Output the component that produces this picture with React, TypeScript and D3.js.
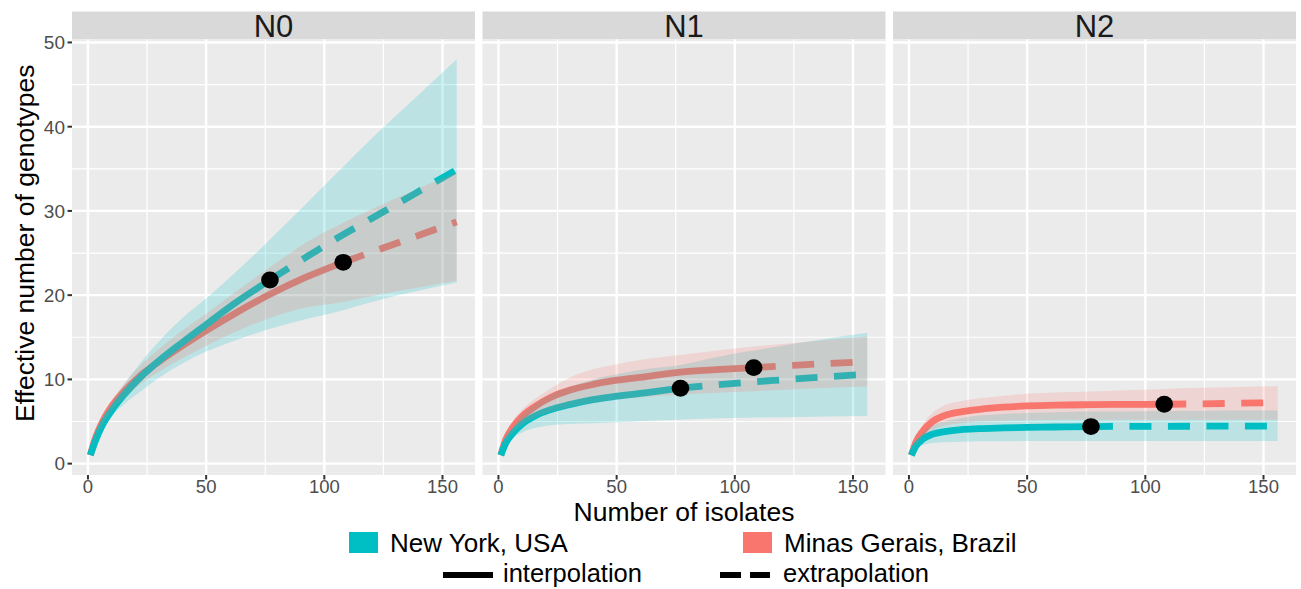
import React from 'react';
import * as d3 from 'd3';

// ---------- data ----------
const panelNames = ['N0', 'N1', 'N2'];
const seriesNames = ['New York, USA', 'Minas Gerais, Brazil'];
const seriesColors = ['#00BFC4', '#F8766D'];
const lineTypes = ['interpolation', 'extrapolation'];

const nyX = [1, 3, 6, 10, 15, 22, 30, 40, 50, 62, 77, 90, 105, 120, 138, 156];
const brX = [1, 3, 6, 10, 15, 22, 30, 40, 50, 62, 77, 92, 108, 124, 140, 156];
const nyObs = 77;
const brObs = 108;

const nyN0 = [1.0, 2.6, 4.5, 6.3, 8.1, 10.2, 12.2, 14.4, 16.5, 19.0, 21.8, 24.1, 26.7, 29.1, 32.0, 34.9];
const nyN0Lo = [1.0, 2.4, 4.0, 5.6, 7.0, 8.5, 10.2, 11.9, 13.3, 14.6, 16.0, 17.0, 18.0, 19.2, 20.4, 21.5];
const nyN0Hi = [1.0, 2.8, 5.0, 7.1, 9.3, 11.9, 14.5, 17.3, 19.6, 22.6, 26.6, 30.2, 34.4, 38.6, 43.3, 48.0];
const brN0 = [1.0, 2.9, 4.9, 6.8, 8.5, 10.4, 12.1, 14.0, 15.8, 17.8, 20.1, 22.1, 23.9, 25.5, 27.1, 28.7];
const brN0Lo = [1.0, 2.7, 4.5, 6.2, 7.7, 9.4, 10.9, 12.5, 14.0, 15.6, 17.3, 18.5, 19.2, 20.1, 20.9, 21.7];
const brN0Hi = [1.0, 3.1, 5.3, 7.4, 9.4, 11.6, 13.6, 15.8, 17.8, 20.3, 23.3, 26.2, 28.6, 30.7, 32.7, 34.6];

const nyN1 = [1.0, 2.4, 3.6, 4.7, 5.6, 6.4, 7.0, 7.6, 8.0, 8.4, 8.95, 9.3, 9.65, 9.95, 10.3, 10.6];
const nyN1Lo = [1.0, 2.0, 3.0, 3.7, 4.2, 4.55, 4.7, 4.8, 4.9, 5.05, 5.2, 5.35, 5.45, 5.5, 5.6, 5.65];
const nyN1Hi = [1.0, 2.8, 4.3, 5.8, 7.0, 8.2, 9.1, 10.0, 10.6, 11.2, 11.7, 12.5, 13.3, 14.0, 14.8, 15.55];
const brN1 = [1.0, 2.8, 4.3, 5.6, 6.7, 7.85, 8.7, 9.4, 9.9, 10.3, 10.85, 11.15, 11.4, 11.65, 11.9, 12.1];
const brN1Lo = [1.0, 2.5, 3.6, 4.6, 5.4, 6.1, 6.7, 7.2, 7.6, 7.9, 8.2, 8.4, 8.6, 8.8, 9.0, 9.15];
const brN1Hi = [1.0, 3.1, 5.0, 6.4, 7.6, 8.9, 10.2, 11.2, 11.8, 12.4, 12.9, 13.4, 13.9, 14.3, 14.7, 15.1];

const nyN2 = [1.0, 2.1, 2.95, 3.5, 3.8, 4.05, 4.15, 4.25, 4.3, 4.35, 4.4, 4.42, 4.43, 4.44, 4.45, 4.45];
const nyN2Lo = [1.0, 1.7, 2.2, 2.45, 2.55, 2.6, 2.65, 2.65, 2.7, 2.7, 2.7, 2.7, 2.7, 2.7, 2.7, 2.7];
const nyN2Hi = [1.0, 2.5, 3.7, 4.5, 5.0, 5.4, 5.7, 5.9, 6.0, 6.1, 6.2, 6.2, 6.25, 6.25, 6.3, 6.3];
const brN2 = [1.0, 2.6, 3.9, 5.0, 5.7, 6.15, 6.45, 6.7, 6.85, 6.95, 7.0, 7.03, 7.05, 7.1, 7.17, 7.25];
const brN2Lo = [1.0, 2.2, 3.2, 4.0, 4.5, 4.8, 5.0, 5.1, 5.15, 5.2, 5.2, 5.2, 5.2, 5.2, 5.2, 5.2];
const brN2Hi = [1.0, 3.0, 4.7, 6.0, 6.9, 7.4, 7.75, 8.05, 8.3, 8.45, 8.55, 8.7, 8.85, 9.0, 9.1, 9.2];

const xTicks = [0, 50, 100, 150];
const xMinor = [25, 75, 125];
const yTicks = [0, 10, 20, 30, 40, 50];
const yMinor = [5, 15, 25, 35, 45];

// ---------- layout ----------
const W = 1301;
const H = 589;
const panelLefts = [72, 482.5, 893];
const panelW = 403;
const stripTop = 11.5;
const panelTop = 39.5;
const panelBottom = 475;
const FONT = '"Liberation Sans", Arial, Helvetica, sans-serif';

type Pt = { x: number; y: number; lo: number; hi: number };

function build(xs: number[], y: number[], lo: number[], hi: number[]): Pt[] {
  return xs.map((x, i) => ({ x, y: y[i], lo: lo[i], hi: hi[i] }));
}

const panelData: { ny: Pt[]; br: Pt[] }[] = [
  { ny: build(nyX, nyN0, nyN0Lo, nyN0Hi), br: build(brX, brN0, brN0Lo, brN0Hi) },
  { ny: build(nyX, nyN1, nyN1Lo, nyN1Hi), br: build(brX, brN1, brN1Lo, brN1Hi) },
  { ny: build(nyX, nyN2, nyN2Lo, nyN2Hi), br: build(brX, brN2, brN2Lo, brN2Hi) },
];

const xDomainData = [1, 156];
const xPad = (xDomainData[1] - xDomainData[0]) * 0.05;
const yDomainData = [1, 48];
const yPad = (yDomainData[1] - yDomainData[0]) * 0.05;

const yScale = d3
  .scaleLinear()
  .domain([yDomainData[0] - yPad, yDomainData[1] + yPad])
  .range([panelBottom, panelTop]);

function Panel({ idx }: { idx: number }) {
  const left = panelLefts[idx];
  const x = d3
    .scaleLinear()
    .domain([xDomainData[0] - xPad, xDomainData[1] + xPad])
    .range([left, left + panelW]);
  const { ny, br } = panelData[idx];
  const line = d3
    .line<Pt>()
    .x((d) => x(d.x))
    .y((d) => yScale(d.y))
    .curve(d3.curveMonotoneX);
  const area = d3
    .area<Pt>()
    .x((d) => x(d.x))
    .y0((d) => yScale(d.lo))
    .y1((d) => yScale(d.hi))
    .curve(d3.curveMonotoneX);

  const series = [
    { pts: br, obs: brObs, color: seriesColors[1] },
    { pts: ny, obs: nyObs, color: seriesColors[0] },
  ];
  const lw = 6.8;

  return (
    <g>
      {/* strip */}
      <rect x={left} y={stripTop} width={panelW} height={panelTop - stripTop} fill="#d9d9d9" />
      <text
        x={left + panelW / 2}
        y={panelTop - 3}
        textAnchor="middle"
        fontFamily={FONT}
        fontSize={31}
        fill="#1a1a1a"
      >
        {panelNames[idx]}
      </text>
      {/* panel */}
      <rect x={left} y={panelTop} width={panelW} height={panelBottom - panelTop} fill="#ebebeb" />
      {yMinor.map((v) => (
        <line key={'ym' + v} x1={left} x2={left + panelW} y1={yScale(v)} y2={yScale(v)} stroke="#fff" strokeWidth={1.2} />
      ))}
      {xMinor.map((v) => (
        <line key={'xm' + v} x1={x(v)} x2={x(v)} y1={panelTop} y2={panelBottom} stroke="#fff" strokeWidth={1.2} />
      ))}
      {yTicks.map((v) => (
        <line key={'yM' + v} x1={left} x2={left + panelW} y1={yScale(v)} y2={yScale(v)} stroke="#fff" strokeWidth={2.4} />
      ))}
      {xTicks.map((v) => (
        <line key={'xM' + v} x1={x(v)} x2={x(v)} y1={panelTop} y2={panelBottom} stroke="#fff" strokeWidth={2.4} />
      ))}
      <clipPath id={'clip' + idx}>
        <rect x={left} y={panelTop} width={panelW} height={panelBottom - panelTop} />
      </clipPath>
      <g clipPath={`url(#clip${idx})`}>
        {/* lines */}
        {series.map((s, i) => {
          const interp = s.pts.filter((p) => p.x <= s.obs);
          const extrap = s.pts.filter((p) => p.x >= s.obs);
          return (
            <g key={'l' + i}>
              <path d={line(interp) || ''} fill="none" stroke={s.color} strokeWidth={lw} />
              <path
                d={line(extrap) || ''}
                fill="none"
                stroke={s.color}
                strokeWidth={lw}
                strokeDasharray="22 16.5"
              />
            </g>
          );
        })}
        {/* ribbons on top of lines */}
        {[series[1], series[0]].map((s, i) => (
          <path key={'r' + i} d={area(s.pts) || ''} fill={s.color} fillOpacity={0.2} stroke="none" />
        ))}
        {/* observed points */}
        {series.map((s, i) => {
          const p = s.pts.find((q) => q.x === s.obs)!;
          return <ellipse key={'p' + i} cx={x(p.x)} cy={yScale(p.y)} rx={8.8} ry={8.4} fill="#000" />;
        })}
      </g>
      {/* x axis ticks */}
      {xTicks.map((v) => (
        <g key={'xt' + v}>
          <line x1={x(v)} x2={x(v)} y1={panelBottom} y2={panelBottom + 4.5} stroke="#333" strokeWidth={2} />
          <text x={x(v)} y={492.5} textAnchor="middle" fontFamily={FONT} fontSize={18.5} fill="#4d4d4d">
            {v}
          </text>
        </g>
      ))}
      {idx === 0 &&
        yTicks.map((v) => (
          <g key={'yt' + v}>
            <line x1={left - 4.5} x2={left} y1={yScale(v)} y2={yScale(v)} stroke="#333" strokeWidth={2} />
            <text
              x={left - 7}
              y={yScale(v)}
              dy="0.36em"
              textAnchor="end"
              fontFamily={FONT}
              fontSize={19}
              fill="#4d4d4d"
            >
              {v}
            </text>
          </g>
        ))}
    </g>
  );
}

export default function App() {
  const fullLeft = panelLefts[0];
  const fullRight = panelLefts[2] + panelW;
  return (
    <svg
      width={W}
      height={H}
      viewBox={`0 0 ${W} ${H}`}
      style={{ position: 'absolute', left: 0, top: 0, background: '#fff' }}
    >
      <rect x={0} y={0} width={W} height={H} fill="#fff" />
      {panelNames.map((_, i) => (
        <Panel key={i} idx={i} />
      ))}
      {/* axis titles */}
      <text
        x={(fullLeft + fullRight) / 2}
        y={521}
        textAnchor="middle"
        fontFamily={FONT}
        fontSize={26.5}
        fill="#000"
      >
        Number of isolates
      </text>
      <text
        transform={`translate(33.5, ${(stripTop + panelBottom) / 2}) rotate(-90)`}
        textAnchor="middle"
        fontFamily={FONT}
        fontSize={26.5}
        fill="#000"
      >
        Effective number of genotypes
      </text>
      {/* legend row 1 */}
      <rect x={349} y={532} width={29} height={21} fill={seriesColors[0]} />
      <text x={390} y={552} fontFamily={FONT} fontSize={26} fill="#000">
        {seriesNames[0]}
      </text>
      <rect x={743} y={532} width={29} height={21} fill={seriesColors[1]} />
      <text x={784} y={552} fontFamily={FONT} fontSize={26} fill="#000">
        {seriesNames[1]}
      </text>
      {/* legend row 2 */}
      <line x1={443} x2={493} y1={575} y2={575} stroke="#000" strokeWidth={6} />
      <text x={503} y={582} fontFamily={FONT} fontSize={25.5} fill="#000">
        {lineTypes[0]}
      </text>
      <line x1={720} x2={770} y1={575} y2={575} stroke="#000" strokeWidth={6} strokeDasharray="21 9" />
      <text x={783} y={582} fontFamily={FONT} fontSize={25.5} fill="#000">
        {lineTypes[1]}
      </text>
    </svg>
  );
}
